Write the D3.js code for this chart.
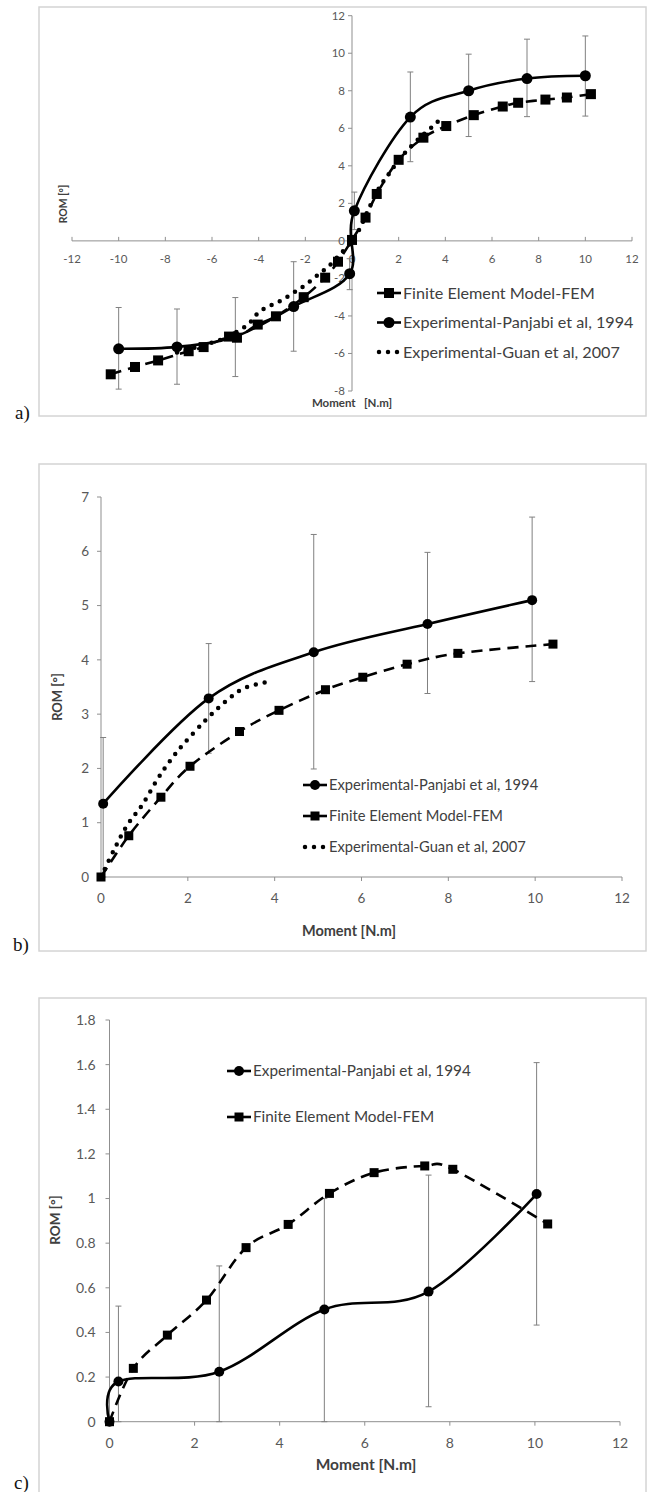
<!DOCTYPE html>
<html>
<head>
<meta charset="utf-8">
<script src="https://cdn.jsdelivr.net/npm/d3@7"></script>
<style>
  body { margin: 0; background: #fff; }
  svg { display: block; }
</style>
</head>
<body>
<div id="chart"></div>
<script>
// ---- data ----
// panel a) lateral bending (negative and positive moments)
var aFemX = [-10.34, -9.3, -8.31, -7.0, -6.36, -5.27, -4.93, -4.04, -3.26, -2.07, -1.15, -0.6, 0, 0.58, 1.06, 2.0, 3.06, 4.04, 5.22, 6.46, 7.12, 8.29, 9.21, 10.24];
var aFemY = [-7.11, -6.72, -6.37, -5.88, -5.66, -5.1, -5.16, -4.46, -4.02, -3.0, -1.96, -1.11, 0.05, 1.24, 2.5, 4.32, 5.5, 6.12, 6.7, 7.16, 7.36, 7.53, 7.64, 7.82];
var aPanX = [-10, -7.5, -5, -2.5, -0.1, 0.1, 2.5, 5, 7.5, 10];
var aPanY = [-5.75, -5.65, -5.1, -3.5, -1.75, 1.6, 6.6, 8.0, 8.65, 8.8];
var aPanHi = [-3.55, -3.63, -3.02, -1.11, -0.95, 2.6, 9.0, 9.95, 10.75, 10.92];
var aPanLo = [-7.9, -7.64, -7.23, -5.88, -2.6, 0.6, 4.22, 5.56, 6.62, 6.65];
var aGuanX = [-7.5, -6.5, -5.5, -4.5, -4.0, -3.5, -3.0, -2.5, -2.0, -1.5, -1.0, -0.5, 0, 0.35, 0.75, 1.2, 1.6, 2.0, 2.5, 3.0, 3.5, 3.9];
var aGuanY = [-5.95, -5.6, -5.2, -4.5, -3.8, -3.45, -3.15, -2.75, -2.35, -1.85, -1.35, -0.7, 0, 0.7, 1.8, 2.9, 3.6, 4.3, 5.0, 5.6, 6.15, 6.6];
var aTicksX = [-12, -10, -8, -6, -4, -2, 0, 2, 4, 6, 8, 10, 12];
var aTicksY = [-8, -6, -4, -2, 0, 2, 4, 6, 8, 10, 12];

// panel b)
var bPanX = [0.05, 2.48, 4.9, 7.52, 9.93];
var bPanY = [1.35, 3.29, 4.14, 4.66, 5.1];
var bPanHi = [2.57, 4.3, 6.31, 5.98, 6.63];
var bPanLo = [0, 2.28, 1.99, 3.38, 3.6];
var bFemX = [0, 0.64, 1.38, 2.05, 3.19, 4.1, 5.17, 6.03, 7.05, 8.22, 10.41];
var bFemY = [0, 0.76, 1.47, 2.04, 2.68, 3.07, 3.45, 3.68, 3.92, 4.12, 4.29];
var bGuanX = [0, 0.3, 0.6, 0.95, 1.3, 1.6, 1.9, 2.4, 2.85, 3.3, 3.9];
var bGuanY = [0, 0.5, 0.95, 1.33, 1.8, 2.15, 2.45, 2.88, 3.22, 3.48, 3.6];
var bTicksX = [0, 2, 4, 6, 8, 10, 12];
var bTicksY = [0, 1, 2, 3, 4, 5, 6, 7];

// panel c)
var cPanX = [0, 0.21, 2.58, 5.05, 7.5, 10.04];
var cPanY = [0, 0.18, 0.224, 0.503, 0.583, 1.02];
var cPanHi = [0, 0.518, 0.698, 1.0, 1.105, 1.609];
var cPanLo = [0, 0, 0, 0, 0.067, 0.433];
var cFemX = [0, 0.56, 1.36, 2.28, 3.21, 4.2, 5.17, 6.22, 7.41, 8.07, 10.3];
var cFemY = [0, 0.239, 0.388, 0.545, 0.78, 0.884, 1.023, 1.116, 1.146, 1.131, 0.886];
var cTicksX = [0, 2, 4, 6, 8, 10, 12];
var cTicksY = [0, 0.2, 0.4, 0.6, 0.8, 1, 1.2, 1.4, 1.6, 1.8];

var FEM = "Finite Element Model-FEM",
    PAN = "Experimental-Panjabi et al, 1994",
    GUAN = "Experimental-Guan et al, 2007";

var font = "Lato, 'Open Sans', sans-serif";
var svg = d3.select("#chart").append("svg")
  .attr("width", 648).attr("height", 1492);

function zip(xs, ys) {
  return xs.map(function (x, i) { return [x, ys[i]]; });
}

// one chart panel
function drawPanel(p) {
  var g = svg.append("g");
  // frame
  g.append("rect")
    .attr("x", p.frame[0]).attr("y", p.frame[1])
    .attr("width", p.frame[2] - p.frame[0]).attr("height", p.frame[3] - p.frame[1])
    .attr("fill", "none").attr("stroke", "#d4d4d4").attr("stroke-width", 1.5);
  g.append("text").attr("x", p.tag[0]).attr("y", p.tag[1])
    .attr("font-family", "'Liberation Serif', 'Times New Roman', serif")
    .attr("font-size", 19).attr("fill", "#111").text(p.tagText);

  var x = d3.scaleLinear().domain(p.xDom).range(p.xRange);
  var y = d3.scaleLinear().domain(p.yDom).range(p.yRange);
  var x0 = x(p.crossX), y0 = y(p.crossY);

  // axes
  g.append("line").attr("x1", x(p.xDom[0])).attr("x2", x(p.xDom[1]))
    .attr("y1", y0).attr("y2", y0).attr("stroke", "#8f8f8f");
  g.append("line").attr("x1", x0).attr("x2", x0)
    .attr("y1", y(p.yDom[0])).attr("y2", y(p.yDom[1])).attr("stroke", "#8f8f8f");
  g.selectAll(".xt").data(p.ticksX).enter().append("line")
    .attr("x1", function (d) { return x(d); }).attr("x2", function (d) { return x(d); })
    .attr("y1", y0).attr("y2", y0 + p.xTickDir * 4).attr("stroke", "#8f8f8f");
  g.selectAll(".yt").data(p.ticksY).enter().append("line")
    .attr("y1", function (d) { return y(d); }).attr("y2", function (d) { return y(d); })
    .attr("x1", x0).attr("x2", x0 - 4).attr("stroke", "#8f8f8f");
  g.selectAll(".xl").data(p.ticksX).enter().append("text")
    .attr("x", function (d) { return x(d); }).attr("y", y0 + p.xLabOff)
    .attr("text-anchor", "middle").attr("font-family", font)
    .attr("font-size", p.tickSize).attr("fill", "#595959")
    .text(function (d) { return d; });
  g.selectAll(".yl").data(p.ticksY).enter().append("text")
    .attr("x", x0 - p.yLabOff).attr("y", function (d) { return y(d); })
    .attr("dy", "0.35em").attr("text-anchor", "end").attr("font-family", font)
    .attr("font-size", p.tickSize).attr("fill", "#595959")
    .text(function (d) { return d; });

  // axis titles
  g.append("text")
    .attr("transform", "translate(" + p.romPos[0] + "," + p.romPos[1] + ") rotate(-90)")
    .attr("text-anchor", "middle").attr("font-family", font).attr("font-weight", "bold")
    .attr("font-size", p.romSize).attr("fill", "#404040").text("ROM [°]");
  g.append("text").attr("x", p.momPos[0]).attr("y", p.momPos[1])
    .attr("text-anchor", "middle").attr("font-family", font).attr("font-weight", "bold")
    .attr("font-size", p.momSize).attr("fill", "#404040").style("white-space", "pre")
    .text(p.momText);

  var line = d3.line()
    .x(function (d) { return x(d[0]); }).y(function (d) { return y(d[1]); })
    .curve(d3.curveCatmullRom.alpha(0));

  // error bars of the experimental series
  var eb = g.append("g").attr("stroke", "#808080").attr("stroke-width", 1);
  p.pan.x.forEach(function (v, i) {
    var hi = y(p.pan.hi[i]), lo = y(p.pan.lo[i]), cx = x(v);
    eb.append("line").attr("x1", cx).attr("x2", cx).attr("y1", hi).attr("y2", lo);
    eb.append("line").attr("x1", cx - 3).attr("x2", cx + 3).attr("y1", hi).attr("y2", hi);
    eb.append("line").attr("x1", cx - 3).attr("x2", cx + 3).attr("y1", lo).attr("y2", lo);
  });

  if (p.guan) {
    g.append("path").datum(zip(p.guan.x, p.guan.y)).attr("d", line)
      .attr("fill", "none").attr("stroke", "#000").attr("stroke-width", 4.5)
      .attr("stroke-linecap", "round").attr("stroke-dasharray", "0 9");
  }
  var fem = zip(p.fem.x, p.fem.y);
  g.append("path").datum(fem).attr("d", line)
    .attr("fill", "none").attr("stroke", "#000").attr("stroke-width", 2.6)
    .attr("stroke-dasharray", "11 7");
  g.selectAll(".sq").data(fem).enter().append("rect")
    .attr("x", function (d) { return x(d[0]) - p.sq / 2; })
    .attr("y", function (d) { return y(d[1]) - p.sq / 2; })
    .attr("width", p.sq).attr("height", p.sq).attr("fill", "#000");

  var pan = zip(p.pan.x, p.pan.y);
  g.append("path").datum(pan).attr("d", line)
    .attr("fill", "none").attr("stroke", "#000").attr("stroke-width", 2.6);
  g.selectAll(".ci").data(pan).enter().append("circle")
    .attr("cx", function (d) { return x(d[0]); })
    .attr("cy", function (d) { return y(d[1]); })
    .attr("r", p.r).attr("fill", "#000");

  // legend
  p.legend.forEach(function (item, i) {
    var lx = p.legPos[0], ly = p.legPos[1] + i * p.legGap;
    var lg = g.append("g");
    if (item === GUAN) {
      lg.append("line").attr("x1", lx + 2).attr("x2", lx + 22).attr("y1", ly).attr("y2", ly)
        .attr("stroke", "#000").attr("stroke-width", 4.5).attr("stroke-linecap", "round")
        .attr("stroke-dasharray", "0 9");
    } else {
      lg.append("line").attr("x1", lx).attr("x2", lx + 24).attr("y1", ly).attr("y2", ly)
        .attr("stroke", "#000").attr("stroke-width", 2.6);
      if (item === FEM) {
        lg.append("rect").attr("x", lx + 12 - p.sq / 2).attr("y", ly - p.sq / 2)
          .attr("width", p.sq).attr("height", p.sq);
      } else {
        lg.append("circle").attr("cx", lx + 12).attr("cy", ly).attr("r", p.r);
      }
    }
    lg.append("text").attr("x", lx + 26).attr("y", ly).attr("dy", "0.35em")
      .attr("font-family", font).attr("font-size", p.legSize).attr("fill", "#404040")
      .text(item);
  });
}

drawPanel({
  frame: [39, 7, 646, 416], tag: [15, 419], tagText: "a)",
  xDom: [-12, 12], xRange: [72, 632], yDom: [-8, 12], yRange: [391, 15.7],
  crossX: 0, crossY: 0, ticksX: aTicksX, ticksY: aTicksY, xTickDir: -1,
  xLabOff: 22, yLabOff: 7, tickSize: 11.5, romSize: 10.5, momSize: 11.5,
  romPos: [67, 204], momPos: [352, 407], momText: "Moment   [N.m]",
  fem: { x: aFemX, y: aFemY },
  pan: { x: aPanX, y: aPanY, hi: aPanHi, lo: aPanLo },
  guan: { x: aGuanX, y: aGuanY },
  sq: 10, r: 5.5,
  legend: [FEM, PAN, GUAN], legPos: [377, 293], legGap: 29.5, legSize: 16.2
});

drawPanel({
  frame: [39, 464, 646, 951], tag: [13, 951], tagText: "b)",
  xDom: [0, 12], xRange: [101, 622], yDom: [0, 7], yRange: [877, 497],
  crossX: 0, crossY: 0, ticksX: bTicksX, ticksY: bTicksY, xTickDir: 1,
  xLabOff: 26, yLabOff: 12, tickSize: 13.5, romSize: 13, momSize: 14.5,
  romPos: [62, 697], momPos: [349, 936], momText: "Moment [N.m]",
  fem: { x: bFemX, y: bFemY },
  pan: { x: bPanX, y: bPanY, hi: bPanHi, lo: bPanLo },
  guan: { x: bGuanX, y: bGuanY },
  sq: 9, r: 5,
  legend: [PAN, FEM, GUAN], legPos: [303, 785], legGap: 31, legSize: 14.7
});

drawPanel({
  frame: [39, 998, 646, 1500], tag: [14, 1489], tagText: "c)",
  xDom: [0, 12], xRange: [109.5, 620], yDom: [0, 1.8], yRange: [1421.7, 1020],
  crossX: 0, crossY: 0, ticksX: cTicksX, ticksY: cTicksY, xTickDir: 1,
  xLabOff: 26, yLabOff: 14, tickSize: 14, romSize: 13.5, momSize: 15.5,
  romPos: [60, 1220], momPos: [366, 1470], momText: "Moment [N.m]",
  fem: { x: cFemX, y: cFemY },
  pan: { x: cPanX, y: cPanY, hi: cPanHi, lo: cPanLo },
  guan: null,
  sq: 9, r: 5,
  legend: [PAN, FEM], legPos: [227, 1071], legGap: 46, legSize: 15.3
});
</script>
</body>
</html>
